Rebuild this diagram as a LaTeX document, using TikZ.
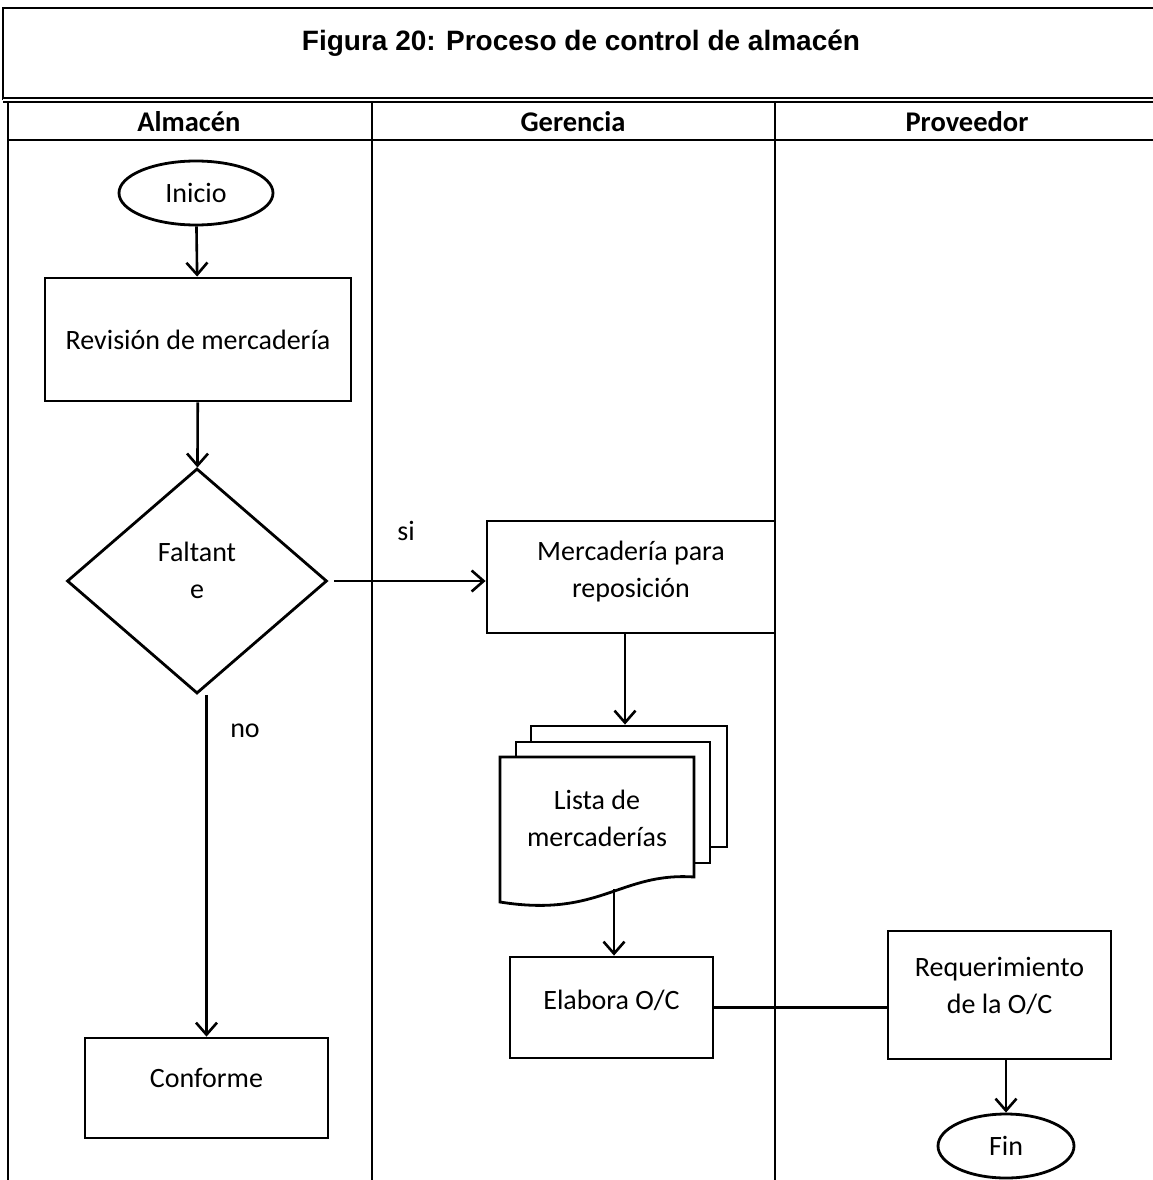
\documentclass[tikz,border=0pt]{standalone}
\usepackage{fontspec}
\setmainfont{Carlito}
\newfontfamily\titlefont{Liberation Sans}
\usetikzlibrary{shapes.geometric,arrows.meta}
\tikzset{
  caja/.style={draw,line width=2.8pt,fill=white,align=center,inner sep=0pt,font=\fontsize{28}{37}\selectfont},
  terminal/.style={caja,ellipse},
  decision/.style={caja,diamond},
  hoja/.style={draw,line width=2.8pt,fill=white},
  flecha/.style={line width=2.6pt,-{Straight Barb[length=12pt,width=21pt,line width=2.6pt]}},
  linea/.style={line width=2.6pt},
  carril/.style={line width=2.2pt},
  texto/.style={font=\fontsize{28}{37}\selectfont},
  cabecera/.style={font=\fontsize{28.5}{32}\selectfont\bfseries}
}
\begin{document}
\begin{tikzpicture}[x=1pt,y=-1pt]
    \useasboundingbox (0,0) rectangle (1153,1180);
    \draw[carril] (1153,8) -- (3,8) -- (3,100);
    \draw[carril,double,double distance=2pt] (3,100) -- (1153,100);
    \draw[carril] (8,102) -- (8,1180);
    \draw[carril] (8,140) -- (1153,140);
    \draw[carril] (372,102) -- (372,1180);
    \draw[carril] (775,102) -- (775,1180);
    \node (titulo) at (581,43) {\titlefont\bfseries\fontsize{28}{32}\selectfont Figura 20: Proceso de control de almacén};
    \node[cabecera] (almacen) at (189,122) {Almacén};
    \node[cabecera] (gerencia) at (573,122) {Gerencia};
    \node[cabecera] (proveedor) at (967,122) {Proveedor};

    \node[terminal,minimum width=154pt,minimum height=64pt] (inicio) at (196,193) {Inicio};
    \node[caja,minimum width=306pt,minimum height=123pt] (revision) at (198,339.5) {Revisión de mercadería};
    \node[decision,minimum width=260pt,minimum height=225pt,text depth=22pt] (faltante) at (197,581) {Faltant\\e};
    \node[caja,minimum width=243pt,minimum height=100pt,text depth=20pt] (conforme) at (206.5,1088) {Conforme};
    \node[caja,minimum width=288pt,minimum height=112pt,text depth=16pt] (reposicion) at (631,577) {Mercadería para\\reposición};

    \node[hoja,minimum width=196pt,minimum height=121pt] (hoja3) at (629,786.5) {};
    \node[hoja,minimum width=194pt,minimum height=121pt] (hoja2) at (613,802.5) {};
    \draw[hoja] (500,757) -- (694,757) -- (694,877) .. controls (620,872) and (600,918) .. (500,902) -- cycle;
    \node[texto,align=center] (lista) at (597,818) {Lista de\\mercaderías};
    \coordinate (ondas) at (614,889);

    \node[caja,minimum width=203pt,minimum height=101pt,text depth=16pt] (elabora) at (611.5,1007.5) {Elabora O/C};
    \node[caja,minimum width=223pt,minimum height=128pt,text depth=20pt] (requerimiento) at (999.5,995) {Requerimiento\\de la O/C};
    \node[terminal,minimum width=136pt,minimum height=64pt] (fin) at (1006,1146) {Fin};

    \draw[flecha] (inicio) -- (revision);
    \draw[flecha] (revision) -- (faltante);
    \draw[flecha,shorten <=6pt] (faltante.east) -- (faltante.east -| reposicion.west);
    \node[texto] (si) at (406,531) {si};
    \draw[flecha] (conforme.north |- faltante.south) -- (conforme.north);
    \node[texto] (no) at (245,731) {no};
    \draw[flecha] ([xshift=-6pt]reposicion.south) -- ([xshift=-4pt]hoja3.north);
    \draw[flecha] (ondas) -- (ondas |- elabora.north);
    \draw[linea] (elabora.east) -- (elabora.east -| requerimiento.west);
    \draw[flecha] (fin.north |- requerimiento.south) -- (fin.north);
\end{tikzpicture}
\end{document}
